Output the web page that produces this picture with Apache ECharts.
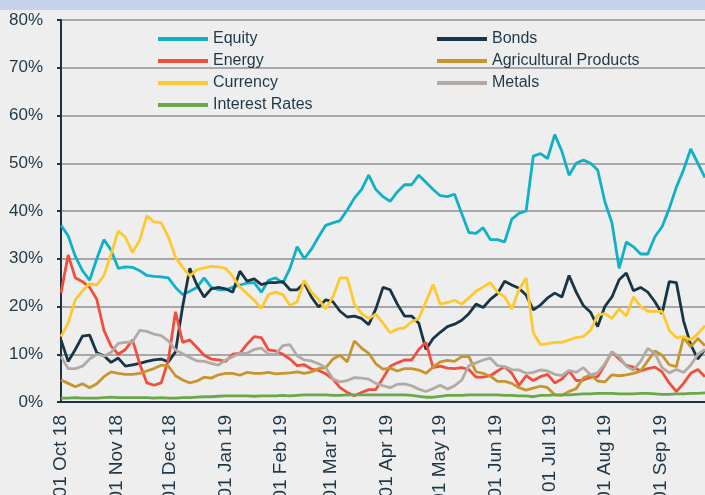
<!DOCTYPE html>
<html>
<head>
<meta charset="utf-8">
<script src="https://cdn.jsdelivr.net/npm/echarts@6/dist/echarts.min.js"></script>
<style>
  html, body { margin: 0; padding: 0; background: #eeeeee; }
  #chart { width: 705px; height: 495px; }
</style>
</head>
<body>
<div id="chart"></div>
<script>
// one reading every 4 days, starting 01 Oct 18
const stepDays = 4;
const monthNames = ['Jan', 'Feb', 'Mar', 'Apr', 'May', 'Jun', 'Jul', 'Aug', 'Sep', 'Oct', 'Nov', 'Dec'];
const yTicks = [0, 10, 20, 30, 40, 50, 60, 70, 80];

const equity = [
  37, 34.8, 30.5, 27.5, 25.5, 30, 34, 31.8, 28, 28.3,
  28.2, 27.5, 26.5, 26.3, 26.2, 26, 24, 22.5, 23.2, 24,
  26, 24, 23.5, 23.5, 24, 24.5, 24.9, 25, 23, 25.5,
  26, 24.9, 28, 32.5, 30, 32, 34.6, 37, 37.5, 38,
  40.2, 42.7, 44.5, 47.5, 44.5, 43, 42, 44, 45.5, 45.5,
  47.5, 46, 44.5, 43.2, 43, 43.5, 39.5, 35.5, 35.3, 36.5,
  34, 34, 33.5, 38.3, 39.5, 40, 51.5, 52, 51, 56,
  52.5, 47.5, 50, 50.7, 50, 48.6, 42, 37.5, 28, 33.5,
  32.5, 31, 31, 34.6, 36.7, 40.5, 45, 48.6, 53, 50,
  47
];
const bonds = [
  13, 8.5, 11, 13.8, 14, 10.3, 9.7, 8.3, 9.2, 7.5,
  7.8, 8.1, 8.5, 8.8, 9, 8.4, 10.5, 20, 28, 24.5,
  22, 23.7, 24, 23.7, 23, 27.4, 25.3, 25.8, 24.6, 25,
  25, 25.2, 23.5, 23.5, 24.9, 22, 19.9, 21.4, 21, 19,
  17.8, 18, 17.5, 16.2, 19.5, 24, 23.5, 20.5, 18, 18,
  16.5, 11, 13.3, 14.6, 15.8, 16.3, 17.1, 18.5, 20.5, 19.8,
  21.5, 22.7, 25.3, 24.5, 23.8, 22.4, 19.3, 20.3, 21.8, 22.8,
  22, 26.5, 23, 20.2, 18.8, 15.8, 20, 22, 25.6, 27,
  23.3, 24, 23, 21, 18.5, 25.2, 25, 17, 12, 9,
  11
];
const energy = [
  22.8, 30.8, 26, 25.2, 24, 21.5, 15, 11.7, 10, 11,
  13, 8, 4, 3.5, 4, 8.8, 18.9, 12.5, 13, 11.4,
  9.8, 9, 8.8, 8.5, 10, 10.2, 12.1, 13.7, 13.5, 10.9,
  10.7, 10, 9, 7.6, 7.8, 6.9, 6.6, 5.9, 4.8, 3,
  2, 1.3, 2, 2.6, 2.6, 5, 7.5, 8.2, 8.8, 8.8,
  11, 12.5, 7.2, 7.5, 7.1, 7, 7.2, 6.8, 5.2, 5.2,
  5.5, 6.5, 7.4, 6, 3.5, 5.5, 4.5, 5.3, 5.8, 4,
  4.8, 6.5, 4.5, 4.6, 5.2, 5.3, 7.8, 10.5, 9, 7.7,
  7.3, 6.5, 7, 7.3, 6.3, 4, 2.2, 3.9, 6, 6.8,
  5.3
];
const agricultural = [
  4.6, 3.9, 3.2, 3.8, 3, 3.8, 5.3, 6.3, 6, 5.8,
  5.8, 6, 6.5, 7, 7.7, 7.5, 5.5, 4.6, 4, 4.4,
  5.2, 5, 5.7, 6, 6, 5.6, 6.2, 6, 6, 6.2,
  5.9, 6, 6.1, 6.3, 6, 6.3, 7, 7.2, 9, 9.8,
  8.4, 12.8, 11.3, 10.2, 8, 6.9, 7.1, 6.5, 7, 7,
  6.7, 6, 7.3, 8.4, 8.7, 8.5, 9.5, 9.5, 6.3, 6,
  5.4, 4.3, 4.3, 3.9, 3, 2.5, 2.9, 3.3, 3, 1.5,
  1.4, 2.2, 2.8, 5, 5.7, 4.4, 4.2, 5.7, 5.5, 5.7,
  6, 6.5, 8.6, 10.7, 9.8, 7.8, 7.4, 13.5, 11.6, 13.3,
  11.8
];
const currency = [
  13.7, 16.5, 21.4, 23.3, 24.8, 24.5, 26.5, 31, 35.8, 34.5,
  31.3, 33.9, 39, 37.7, 37.5, 34.6, 30.3, 28.2, 26.4, 27.7,
  28.1, 28.4, 28.3, 28, 26.3, 24.1, 22.7, 21.3, 19.6, 22.5,
  23, 22.5, 20.2, 21, 25.5, 23, 21.5, 19.5, 22, 26,
  26, 20.5, 18.5, 17.5, 18.4, 16.5, 14.5, 15.3, 15.5, 16.8,
  17.5, 21, 24.6, 20.5, 20.8, 21.3, 20.5, 21.8, 23.2, 24.1,
  25, 23, 22, 19.5, 23.5, 26, 14.5, 12, 12.2, 12.5,
  12.5, 13, 13.5, 13.7, 15, 18.2, 18.5, 17.5, 19.5, 18,
  22, 20, 19, 19, 19, 15, 13.5, 13.7, 13, 14.3,
  16
];
const metals = [
  9.5, 7, 7, 7.5, 9, 10, 9.6, 10.4, 12.3, 12.5,
  12.6, 15, 14.8, 14.2, 13.9, 12.8, 10.9, 10.1, 9.3, 8.6,
  8.5, 8.1, 7.7, 8.8, 9.5, 10.2, 10.2, 11, 11.3, 10,
  10, 11.8, 12, 9.7, 8.8, 8.6, 8, 7.2, 4.8, 4.2,
  4.5, 5.1, 5, 4.8, 3.9, 3.4, 3, 3.7, 3.8, 3.4,
  2.7, 2.2, 2.8, 3.5, 2.7, 3.4, 4.6, 7.6, 8.2, 8.8,
  9.2, 7.6, 7.4, 6.8, 6.7, 6, 6.2, 6.7, 6.5, 5.8,
  5.5, 6.6, 6.2, 7.2, 5.7, 6.1, 8, 10.5, 9.5, 7.5,
  6.7, 8.5, 11.2, 10.2, 7.2, 6.1, 6.8, 6.2, 7.7, 10,
  11
];
const interestRates = [
  0.8, 0.8, 0.9, 0.8, 0.8, 0.8, 0.9, 1.0, 0.9, 0.9,
  0.9, 0.9, 0.9, 0.8, 0.9, 0.8, 0.8, 0.9, 0.9, 1.0,
  1.1, 1.1, 1.2, 1.3, 1.3, 1.3, 1.3, 1.2, 1.3, 1.3,
  1.3, 1.4, 1.3, 1.4, 1.5, 1.5, 1.5, 1.5, 1.4, 1.4,
  1.5, 1.5, 1.5, 1.5, 1.5, 1.5, 1.5, 1.5, 1.5, 1.4,
  1.2, 1.0, 1.0, 1.2, 1.4, 1.4, 1.4, 1.5, 1.5, 1.5,
  1.5, 1.5, 1.4, 1.4, 1.3, 1.3, 1.1, 1.4, 1.4, 1.5,
  1.5, 1.5, 1.6, 1.7, 1.7, 1.8, 1.8, 1.8, 1.7, 1.7,
  1.7, 1.8, 1.8, 1.7, 1.6, 1.6, 1.7, 1.7, 1.8, 1.8,
  1.9
];

// dates for the readings above
const dates = [];
for (let i = 0; i < equity.length; i++) {
  dates.push(new Date(2018, 9, 1 + i * stepDays).getTime());
}

function pairUp(values) {
  return values.map((v, i) => [dates[i], v]);
}

const seriesList = [
  { name: 'Equity', values: equity, color: '#10b0c7' },
  { name: 'Bonds', values: bonds, color: '#183545' },
  { name: 'Energy', values: energy, color: '#f14f3e' },
  { name: 'Agricultural Products', values: agricultural, color: '#c8952c' },
  { name: 'Currency', values: currency, color: '#fec92f' },
  { name: 'Metals', values: metals, color: '#b2aba5' },
  { name: 'Interest Rates', values: interestRates, color: '#6aa84a' }
];

const textColor = '#1f3848';
const legendCommon = {
  orient: 'vertical',
  top: 26,
  icon: 'rect',
  itemWidth: 50,
  itemHeight: 4,
  itemGap: 6,
  selectedMode: false,
  textStyle: { color: textColor, fontSize: 16, fontFamily: 'Liberation Sans, Arial', lineHeight: 16 }
};

const myChart = echarts.init(document.getElementById('chart'));
const option = {
  animation: false,
  backgroundColor: '#eeeeee',
  graphic: [{
    type: 'rect',
    left: 0,
    top: 0,
    shape: { width: 705, height: 10 },
    style: { fill: '#c5d3ea' }
  }],
  legend: [
    Object.assign({}, legendCommon, { left: 153, data: ['Equity', 'Energy', 'Currency', 'Interest Rates'] }),
    Object.assign({}, legendCommon, { left: 432, data: ['Bonds', 'Agricultural Products', 'Metals'] })
  ],
  // labels run off the bottom edge in the original, so don't squeeze the grid
  grid: { left: 61, right: 0, top: 20, bottom: 93, outerBoundsMode: 'none' },
  xAxis: {
    type: 'time',
    min: dates[0],
    max: dates[dates.length - 1],
    splitNumber: 12,
    minInterval: 28 * 86400000,
    maxInterval: 31 * 86400000,
    axisLine: { lineStyle: { color: '#1c3342', width: 2 } },
    axisTick: { show: false },
    splitLine: { show: false },
    axisLabel: {
      rotate: 90,
      margin: 13,
      color: textColor,
      fontSize: 19,
      fontFamily: 'Liberation Sans, Arial',
      showMaxLabel: false,
      formatter: function (value) {
        const d = new Date(value);
        const day = String(d.getDate()).padStart(2, '0');
        return day + ' ' + monthNames[d.getMonth()] + ' ' + String(d.getFullYear()).slice(2);
      }
    }
  },
  yAxis: {
    type: 'value',
    min: yTicks[0],
    max: yTicks[yTicks.length - 1],
    interval: 10,
    axisLine: { show: true, lineStyle: { color: '#1c3342', width: 2 } },
    axisTick: { show: true, length: 4, lineStyle: { color: '#1c3342', width: 2 } },
    splitLine: { lineStyle: { color: '#a8a8ab', width: 2 } },
    axisLabel: {
      margin: 18,
      color: textColor,
      fontSize: 17,
      fontFamily: 'Liberation Sans, Arial',
      formatter: '{value}%'
    }
  },
  series: seriesList.map(s => ({
    name: s.name,
    type: 'line',
    symbol: 'none',
    color: s.color,
    lineStyle: { width: 2.8, color: s.color },
    data: pairUp(s.values)
  }))
};
option && myChart.setOption(option);
</script>
</body>
</html>
